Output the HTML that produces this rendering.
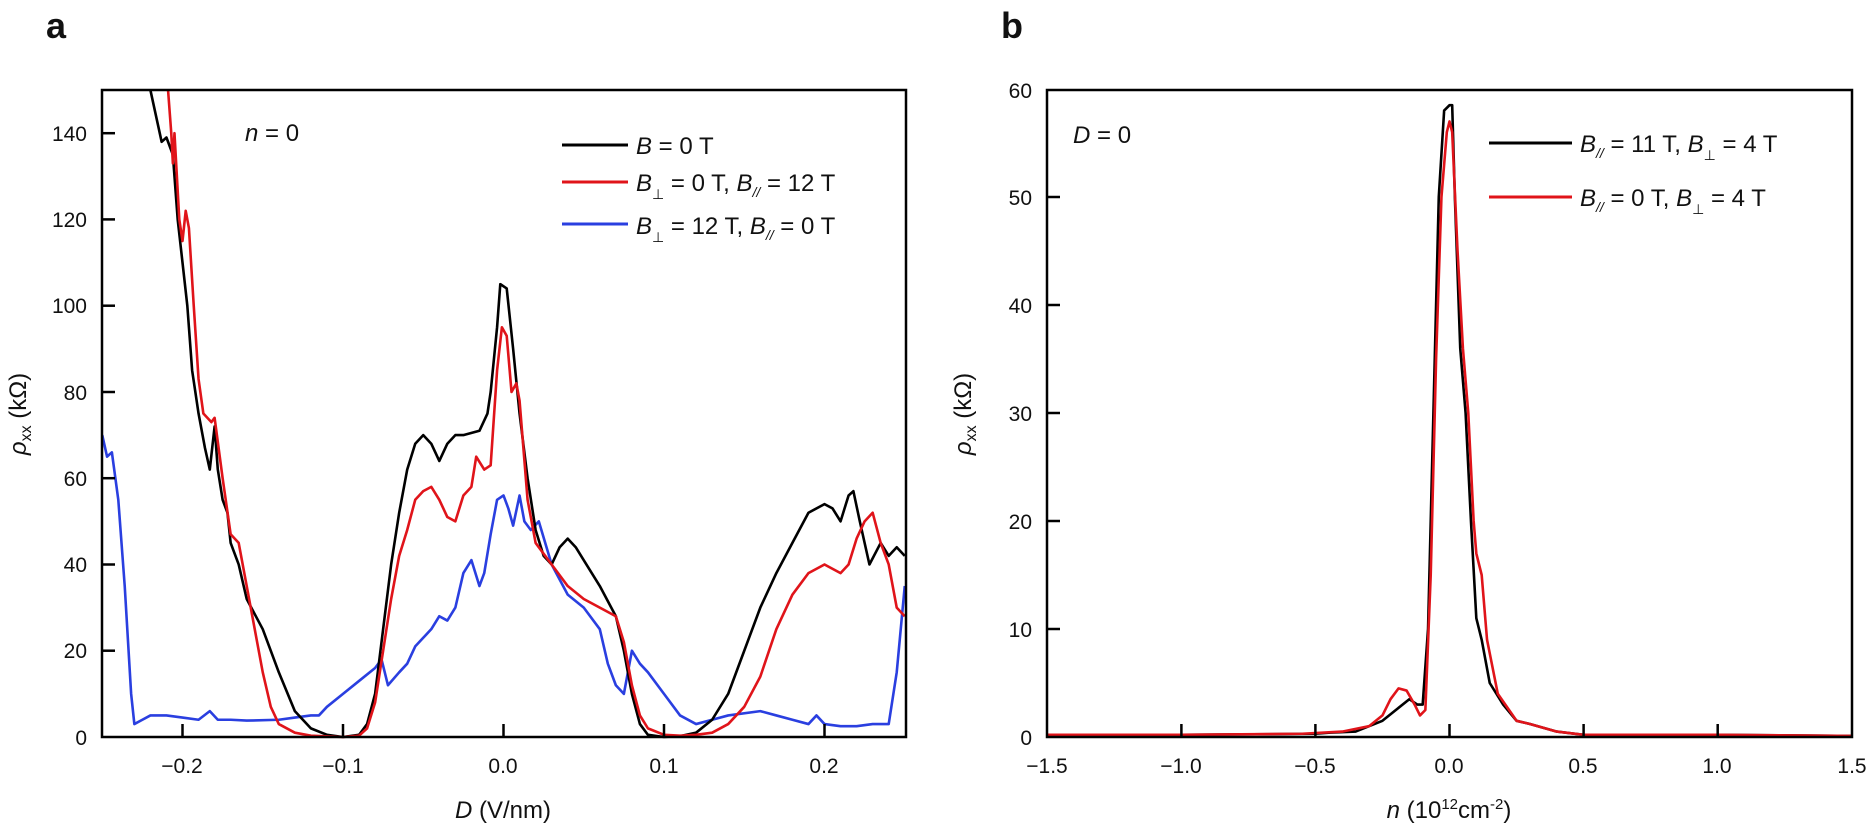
<!DOCTYPE html>
<html><head><meta charset="utf-8"><style>
body{margin:0;background:#fff}
text{font-family:"Liberation Sans",Arial,sans-serif;fill:#111}
.t{font-size:21px}
.l{font-size:24px}
</style></head><body>
<svg width="1868" height="831" viewBox="0 0 1868 831" xmlns="http://www.w3.org/2000/svg">
<text x="46" y="38" style="font-size:36px;font-weight:bold">a</text>
<text x="1001" y="38" style="font-size:36px;font-weight:bold">b</text>

<!-- Panel a -->
<g transform="matrix(1605 0 0 -4.313 503.5 737)" fill="none" stroke-linejoin="round">
<polyline vector-effect="non-scaling-stroke" stroke="#2a3fe0" stroke-width="2.6" points="-0.25,70 -0.247,65 -0.244,66 -0.24,55 -0.236,35 -0.232,10 -0.23,3 -0.225,4 -0.22,5 -0.21,5 -0.2,4.5 -0.19,4 -0.183,6 -0.178,4 -0.17,4 -0.16,3.8 -0.14,4 -0.13,4.5 -0.12,5 -0.115,5 -0.11,7 -0.1,10 -0.09,13 -0.08,16 -0.076,18 -0.072,12 -0.065,15 -0.06,17 -0.055,21 -0.05,23 -0.045,25 -0.04,28 -0.035,27 -0.03,30 -0.025,38 -0.02,41 -0.015,35 -0.012,38 -0.008,47 -0.004,55 0,56 0.003,53 0.006,49 0.01,56 0.013,50 0.017,48 0.022,50 0.03,40 0.04,33 0.05,30 0.06,25 0.065,17 0.07,12 0.075,10 0.08,20 0.085,17 0.09,15 0.1,10 0.11,5 0.12,3 0.13,4 0.14,5 0.16,6 0.17,5 0.18,4 0.19,3 0.195,5 0.2,3 0.21,2.5 0.22,2.5 0.23,3 0.24,3 0.245,15 0.25,35"/>
<polyline vector-effect="non-scaling-stroke" stroke="#000" stroke-width="2.6" points="-0.22,150 -0.213,138 -0.21,139 -0.206,135 -0.203,120 -0.2,110 -0.197,100 -0.194,85 -0.19,75 -0.186,67 -0.183,62 -0.18,72 -0.178,62 -0.175,55 -0.172,52 -0.17,45 -0.165,40 -0.16,32 -0.15,25 -0.14,15 -0.13,6 -0.12,2 -0.11,0.5 -0.1,0 -0.09,0.5 -0.085,3 -0.08,10 -0.075,25 -0.07,40 -0.065,52 -0.06,62 -0.055,68 -0.05,70 -0.045,68 -0.04,64 -0.035,68 -0.03,70 -0.025,70 -0.015,71 -0.01,75 -0.008,80 -0.004,95 -0.002,105 0.002,104 0.006,90 0.01,75 0.015,60 0.02,48 0.025,42 0.03,40 0.035,44 0.04,46 0.045,44 0.05,41 0.06,35 0.07,28 0.075,20 0.08,10 0.085,3 0.09,0.5 0.1,0 0.11,0.2 0.12,1 0.13,4 0.14,10 0.15,20 0.16,30 0.17,38 0.18,45 0.19,52 0.2,54 0.205,53 0.21,50 0.215,56 0.218,57 0.222,50 0.228,40 0.235,45 0.24,42 0.245,44 0.25,42"/>
<polyline vector-effect="non-scaling-stroke" stroke="#e0141a" stroke-width="2.6" points="-0.209,150 -0.207,140 -0.206,133 -0.205,140 -0.202,120 -0.2,115 -0.198,122 -0.196,118 -0.193,100 -0.19,83 -0.187,75 -0.182,73 -0.18,74 -0.175,60 -0.17,47 -0.165,45 -0.16,35 -0.155,25 -0.15,15 -0.145,7 -0.14,3 -0.13,1 -0.12,0.3 -0.1,0 -0.09,0.3 -0.085,2 -0.08,8 -0.075,20 -0.07,32 -0.065,42 -0.06,48 -0.055,55 -0.05,57 -0.045,58 -0.04,55 -0.035,51 -0.03,50 -0.025,56 -0.02,58 -0.017,65 -0.012,62 -0.008,63 -0.004,85 -0.001,95 0.002,93 0.005,80 0.008,82 0.01,78 0.015,55 0.02,45 0.03,40 0.04,35 0.05,32 0.06,30 0.07,28 0.075,22 0.08,12 0.085,5 0.09,2 0.1,0.5 0.11,0.3 0.12,0.5 0.13,1 0.14,3 0.15,7 0.16,14 0.17,25 0.18,33 0.19,38 0.2,40 0.21,38 0.215,40 0.22,46 0.225,50 0.23,52 0.235,45 0.24,40 0.245,30 0.25,28"/>
</g>
<rect x="102" y="90" width="804" height="647" fill="none" stroke="#000" stroke-width="2.5"/>
<g stroke="#000" stroke-width="2.5">
<line x1="182.5" y1="737" x2="182.5" y2="724"/><line x1="343" y1="737" x2="343" y2="724"/><line x1="503.5" y1="737" x2="503.5" y2="724"/><line x1="664" y1="737" x2="664" y2="724"/><line x1="824.5" y1="737" x2="824.5" y2="724"/>
<line x1="102" y1="650.7" x2="115" y2="650.7"/><line x1="102" y1="564.5" x2="115" y2="564.5"/><line x1="102" y1="478.2" x2="115" y2="478.2"/><line x1="102" y1="392" x2="115" y2="392"/><line x1="102" y1="305.7" x2="115" y2="305.7"/><line x1="102" y1="219.4" x2="115" y2="219.4"/><line x1="102" y1="133.2" x2="115" y2="133.2"/>
</g>
<g class="t" text-anchor="end">
<text x="87" y="745" class="t">0</text><text x="87" y="658" class="t">20</text><text x="87" y="572" class="t">40</text><text x="87" y="486" class="t">60</text><text x="87" y="400" class="t">80</text><text x="87" y="313" class="t">100</text><text x="87" y="227" class="t">120</text><text x="87" y="141" class="t">140</text>
</g>
<g text-anchor="middle">
<text x="182" y="773" class="t">−0.2</text><text x="343" y="773" class="t">−0.1</text><text x="503" y="773" class="t">0.0</text><text x="664" y="773" class="t">0.1</text><text x="824" y="773" class="t">0.2</text>
<text x="503" y="818" class="l"><tspan font-style="italic">D</tspan> (V/nm)</text>
</g>
<text transform="translate(26 414) rotate(-90)" text-anchor="middle" class="l"><tspan font-style="italic">ρ</tspan><tspan font-size="16" dy="5">xx</tspan><tspan dy="-5"> (kΩ)</tspan></text>
<text x="245" y="141" class="l"><tspan font-style="italic">n</tspan> = 0</text>
<g stroke-width="3"><line x1="562" y1="145" x2="628" y2="145" stroke="#000"/><line x1="562" y1="182" x2="628" y2="182" stroke="#e0141a"/><line x1="562" y1="224" x2="628" y2="224" stroke="#2a3fe0"/></g>
<text x="636" y="154" class="l"><tspan font-style="italic">B</tspan> = 0 T</text>
<text x="636" y="191" class="l"><tspan font-style="italic">B</tspan><tspan font-size="14" dy="8">⊥</tspan><tspan dy="-8"> = 0 T, </tspan><tspan font-style="italic">B</tspan><tspan font-size="14" font-style="italic" dy="6">//</tspan><tspan dy="-6"> = 12 T</tspan></text>
<text x="636" y="234" class="l"><tspan font-style="italic">B</tspan><tspan font-size="14" dy="8">⊥</tspan><tspan dy="-8"> = 12 T, </tspan><tspan font-style="italic">B</tspan><tspan font-size="14" font-style="italic" dy="6">//</tspan><tspan dy="-6"> = 0 T</tspan></text>

<!-- Panel b -->
<g transform="matrix(268.2 0 0 -10.8 1449.5 737)" fill="none" stroke-linejoin="round">
<polyline vector-effect="non-scaling-stroke" stroke="#000" stroke-width="2.6" points="-1.5,0.2 -1,0.2 -0.5,0.3 -0.45,0.4 -0.35,0.5 -0.3,1 -0.25,1.5 -0.2,2.5 -0.15,3.5 -0.12,3 -0.1,3 -0.08,10 -0.06,30 -0.04,50 -0.02,58 0,58.5 0.01,58.5 0.02,50 0.04,36 0.06,30 0.08,20 0.1,11 0.12,9 0.15,5 0.2,3 0.25,1.5 0.3,1.2 0.4,0.5 0.5,0.2 1,0.2 1.5,0.1"/>
<polyline vector-effect="non-scaling-stroke" stroke="#e0141a" stroke-width="2.6" points="-1.5,0.2 -1,0.2 -0.55,0.3 -0.4,0.5 -0.3,1 -0.25,2 -0.22,3.5 -0.19,4.5 -0.16,4.3 -0.13,3 -0.11,2 -0.09,2.5 -0.07,15 -0.05,35 -0.03,50 -0.01,56 0,57 0.01,56 0.03,45 0.05,36 0.07,30 0.09,20 0.1,17 0.12,15 0.14,9 0.18,4 0.25,1.5 0.3,1.2 0.4,0.5 0.5,0.2 1,0.2 1.5,0.1"/>
</g>
<rect x="1047" y="90" width="805" height="647" fill="none" stroke="#000" stroke-width="2.5"/>
<g stroke="#000" stroke-width="2.5">
<line x1="1181.4" y1="737" x2="1181.4" y2="724"/><line x1="1315.4" y1="737" x2="1315.4" y2="724"/><line x1="1449.5" y1="737" x2="1449.5" y2="724"/><line x1="1583.6" y1="737" x2="1583.6" y2="724"/><line x1="1717.7" y1="737" x2="1717.7" y2="724"/>
<line x1="1047" y1="629" x2="1060" y2="629"/><line x1="1047" y1="521" x2="1060" y2="521"/><line x1="1047" y1="413" x2="1060" y2="413"/><line x1="1047" y1="305" x2="1060" y2="305"/><line x1="1047" y1="197" x2="1060" y2="197"/>
</g>
<g text-anchor="end">
<text x="1032" y="745" class="t">0</text><text x="1032" y="637" class="t">10</text><text x="1032" y="529" class="t">20</text><text x="1032" y="421" class="t">30</text><text x="1032" y="313" class="t">40</text><text x="1032" y="205" class="t">50</text><text x="1032" y="98" class="t">60</text>
</g>
<g text-anchor="middle">
<text x="1047" y="773" class="t">−1.5</text><text x="1181" y="773" class="t">−1.0</text><text x="1315" y="773" class="t">−0.5</text><text x="1449" y="773" class="t">0.0</text><text x="1583" y="773" class="t">0.5</text><text x="1717" y="773" class="t">1.0</text><text x="1852" y="773" class="t">1.5</text>
<text x="1449" y="818" class="l"><tspan font-style="italic">n</tspan> (10<tspan font-size="15" dy="-9">12</tspan><tspan dy="9">cm</tspan><tspan font-size="15" dy="-9">-2</tspan><tspan dy="9">)</tspan></text>
</g>
<text transform="translate(971 414) rotate(-90)" text-anchor="middle" class="l"><tspan font-style="italic">ρ</tspan><tspan font-size="16" dy="5">xx</tspan><tspan dy="-5"> (kΩ)</tspan></text>
<text x="1073" y="143" class="l"><tspan font-style="italic">D</tspan> = 0</text>
<g stroke-width="3"><line x1="1489" y1="143" x2="1572" y2="143" stroke="#000"/><line x1="1489" y1="197" x2="1572" y2="197" stroke="#e0141a"/></g>
<text x="1580" y="152" class="l"><tspan font-style="italic">B</tspan><tspan font-size="14" font-style="italic" dy="6">//</tspan><tspan dy="-6"> = 11 T, </tspan><tspan font-style="italic">B</tspan><tspan font-size="14" dy="8">⊥</tspan><tspan dy="-8"> = 4 T</tspan></text>
<text x="1580" y="206" class="l"><tspan font-style="italic">B</tspan><tspan font-size="14" font-style="italic" dy="6">//</tspan><tspan dy="-6"> = 0 T, </tspan><tspan font-style="italic">B</tspan><tspan font-size="14" dy="8">⊥</tspan><tspan dy="-8"> = 4 T</tspan></text>
</svg>
</body></html>
